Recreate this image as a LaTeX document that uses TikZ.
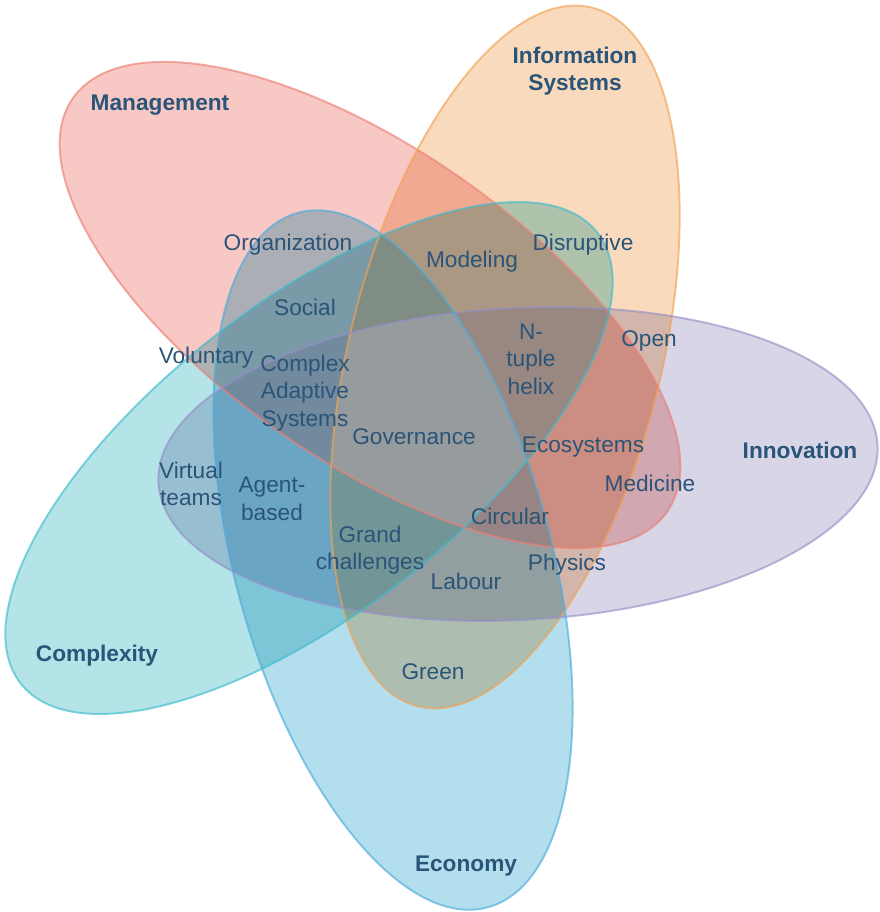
\documentclass[tikz,border=0pt]{standalone}
\usepackage{fontspec}
\setmainfont{Liberation Sans}
\usepackage{xcolor}
\usepackage{tikz}
\definecolor{labelblue}{RGB}{42,84,120}
\definecolor{mgmtfill}{RGB}{247,200,196}
\definecolor{mgmtline}{RGB}{236,128,118}
\definecolor{infofill}{RGB}{249,218,189}
\definecolor{infoline}{RGB}{242,162,84}
\definecolor{innofill}{RGB}{216,213,231}
\definecolor{innoline}{RGB}{150,144,200}
\definecolor{complfill}{RGB}{180,228,232}
\definecolor{complline}{RGB}{62,188,204}
\definecolor{econfill}{RGB}{178,222,238}
\definecolor{econline}{RGB}{78,172,220}
\tikzstyle{petal}=[blend mode=multiply]
\tikzstyle{rim}=[line width=1.1pt,draw opacity=0.65]
\tikzstyle{haze}=[white,fill opacity=0.08]
\tikzstyle{term}=[text=labelblue,align=center,inner sep=0pt,font=\fontsize{12.9}{15.6}\selectfont]
\tikzstyle{field}=[term,font=\fontsize{12.9}{15.6}\selectfont\bfseries]
\tikzstyle{mgmtpos}=[shift={(370,305)},rotate=-34.8]
\tikzstyle{infopos}=[shift={(505,357)},rotate=-14]
\tikzstyle{innopos}=[shift={(518,464)},rotate=3]
\tikzstyle{complpos}=[shift={(309,458)},rotate=38]
\tikzstyle{econpos}=[shift={(393,560)},rotate=15.3]
\newcommand{\mgmtpath}{(0,0) ellipse [x radius=362,y radius=156]}
\newcommand{\infopath}{(0,0) ellipse [x radius=156,y radius=360]}
\newcommand{\innopath}{(0,0) ellipse [x radius=360,y radius=156]}
\newcommand{\complpath}{(0,0) ellipse [x radius=366,y radius=154]}
\newcommand{\econpath}{(0,0) ellipse [x radius=158,y radius=360]}

\begin{document}
\begin{tikzpicture}[x=0.02cm,y=-0.02cm]
	\useasboundingbox (0,0) rectangle (879,912);
	
	% the five petals
	\fill [petal,mgmtpos,mgmtfill] \mgmtpath;
	\fill [petal,infopos,infofill] \infopath;
	\fill [petal,innopos,innofill] \innopath;
	\fill [petal,complpos,complfill] \complpath;
	\fill [petal,econpos,econfill] \econpath;
	
	% lighten the deep overlaps a little
	\begin{scope}
		\clip [infopos] \infopath; \clip [innopos] \innopath; \clip [complpos] \complpath; \clip [econpos] \econpath;
		\fill [haze] (0,0) rectangle (879,912);
	\end{scope}
	\begin{scope}
		\clip [mgmtpos] \mgmtpath; \clip [innopos] \innopath; \clip [complpos] \complpath; \clip [econpos] \econpath;
		\fill [haze] (0,0) rectangle (879,912);
	\end{scope}
	\begin{scope}
		\clip [mgmtpos] \mgmtpath; \clip [infopos] \infopath; \clip [complpos] \complpath; \clip [econpos] \econpath;
		\fill [haze] (0,0) rectangle (879,912);
	\end{scope}
	\begin{scope}
		\clip [mgmtpos] \mgmtpath; \clip [infopos] \infopath; \clip [innopos] \innopath; \clip [econpos] \econpath;
		\fill [haze] (0,0) rectangle (879,912);
	\end{scope}
	\begin{scope}
		\clip [mgmtpos] \mgmtpath; \clip [infopos] \infopath; \clip [innopos] \innopath; \clip [complpos] \complpath;
		\fill [haze] (0,0) rectangle (879,912);
	\end{scope}
	
	% outlines
	\draw [rim,mgmtpos,mgmtline] \mgmtpath;
	\draw [rim,infopos,infoline] \infopath;
	\draw [rim,innopos,innoline] \innopath;
	\draw [rim,complpos,complline] \complpath;
	\draw [rim,econpos,econline] \econpath;
	
	\node at (160,105) [field] (1) {Management};
	\node at (575,71) [field] (2) {Information\\Systems};
	\node at (800,450) [field] (3) {Innovation};
	\node at (97,656) [field] (4) {Complexity};
	\node at (466,866) [field] (5) {Economy};
	
	\node at (288,245) [term] (6) {Organization};
	\node at (472,262) [term] (7) {Modeling};
	\node at (583,245) [term] (8) {Disruptive};
	\node at (305,307) [term] (9) {Social};
	\node at (649,341) [term] (10) {Open};
	\node at (531,359) [term] (11) {N-\\tuple\\helix};
	\node at (206,358) [term] (12) {Voluntary};
	\node at (305,393) [term] (13) {Complex\\Adaptive\\Systems};
	\node at (414,437) [term] (14) {Governance};
	\node at (583,447) [term] (15) {Ecosystems};
	\node at (650,483) [term] (16) {Medicine};
	\node at (191,484) [term] (17) {Virtual\\teams};
	\node at (272,499) [term] (18) {Agent-\\based};
	\node at (510,516) [term] (19) {Circular};
	\node at (370,550) [term] (20) {Grand\\challenges};
	\node at (567,565) [term] (21) {Physics};
	\node at (466,581) [term] (22) {Labour};
	\node at (433,672) [term] (23) {Green};
\end{tikzpicture}
\end{document}
